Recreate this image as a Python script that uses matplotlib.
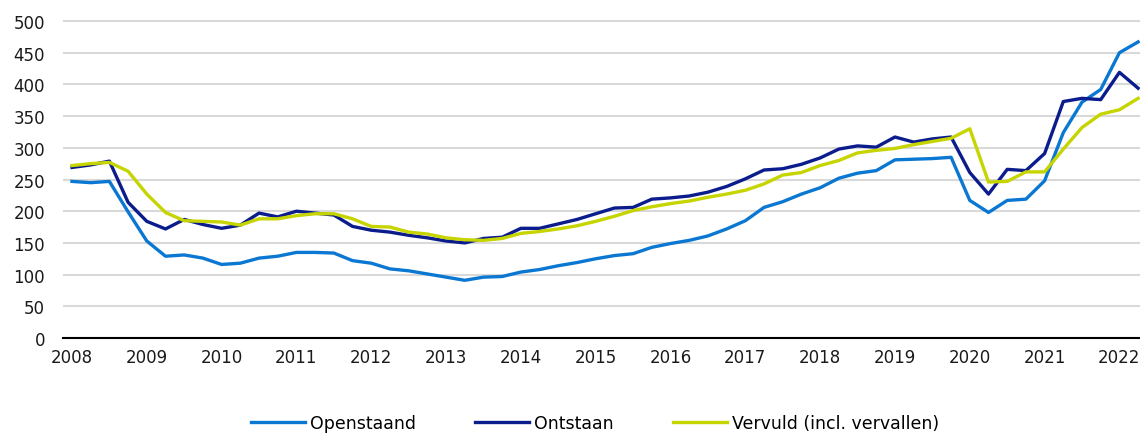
import matplotlib.pyplot as plt

# quarterly, 2008 Q1 .. 2022 Q2 (x 1000)
years = list(range(2008, 2023))

openstaand = [247, 245, 247, 199, 153, 129, 131, 126,
              116, 118, 126, 129, 135, 135, 134, 122,
              118, 109, 106, 101, 96, 91, 96, 97,
              104, 108, 114, 119, 125, 130, 133, 143,
              149, 154, 161, 172, 185, 206, 215, 227,
              237, 252, 260, 264, 281, 282, 283, 285,
              217, 198, 217, 219, 248, 324, 372, 392,
              450, 467]
ontstaan = [269, 273, 279, 214, 184, 172, 187, 179,
            173, 178, 197, 191, 200, 197, 194, 176,
            170, 167, 162, 158, 153, 150, 157, 159,
            173, 173, 180, 187, 196, 205, 206, 219,
            221, 224, 230, 239, 251, 265, 267, 274,
            284, 298, 303, 301, 317, 309, 314, 317,
            261, 227, 266, 264, 291, 373, 378, 376,
            419, 394]
vervuld = [272, 275, 277, 263, 227, 198, 185, 184,
           183, 178, 188, 188, 193, 196, 196, 188,
           176, 175, 167, 164, 158, 155, 154, 157,
           165, 168, 172, 177, 184, 192, 201, 207,
           212, 216, 222, 227, 233, 243, 257, 261,
           272, 280, 292, 296, 299, 305, 310, 315,
           330, 246, 247, 262, 262, 298, 332, 353,
           360, 378]

x = list(range(len(openstaand)))

fig = plt.figure(figsize=(11.4, 4.35), dpi=100)
# y range a bit over 500 so the top gridline is not clipped
ax = fig.add_axes([63 / 1140, 96 / 435, 1 - 63 / 1140, 317 * 1.01 / 435])

ax.plot(x, openstaand, color='#0a78d2', lw=2.4, label='Openstaand')
ax.plot(x, ontstaan, color='#0b1c8c', lw=2.4, label='Ontstaan')
ax.plot(x, vervuld, color='#c6d400', lw=2.4, label='Vervuld (incl. vervallen)')

ax.set_ylim(0, 505)
ax.set_xlim(-0.48, 57.1)
ax.set_yticks(range(0, 501, 50))
ax.set_xticks(range(0, len(x), 4))
ax.set_xticklabels([str(y) for y in years])
ax.tick_params(length=0, labelsize=12, colors='#1a1a1a')
ax.tick_params(axis='y', pad=13)
ax.tick_params(axis='x', pad=7)

ax.grid(axis='y', color='#d9d9d9', lw=1.5)
ax.set_axisbelow(True)
for s in ['top', 'right', 'left']:
    ax.spines[s].set_visible(False)
ax.spines['bottom'].set_color('black')
ax.spines['bottom'].set_linewidth(1.5)
ax.spines['bottom'].set_zorder(5)

fig.legend(loc='center', bbox_to_anchor=(595 / 1140, 11 / 435), ncol=3,
           frameon=False, fontsize=12.5, handlelength=3.1, handletextpad=0.3,
           columnspacing=3.4)

fig.savefig('out.png', dpi=100)
